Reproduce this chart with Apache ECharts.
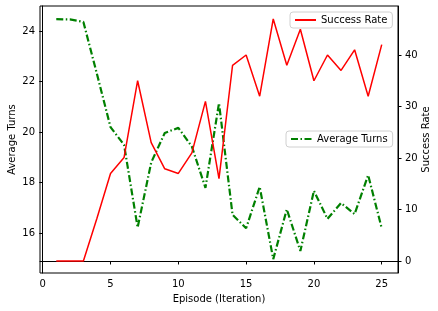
<!DOCTYPE html>
<html>
<head>
<meta charset="utf-8">
<script src="https://cdn.jsdelivr.net/npm/echarts@6/dist/echarts.min.js"></script>
<style>html,body{margin:0;padding:0;background:#fff}#c{width:438px;height:311px}</style>
</head>
<body>
<div id="c"></div>
<script>
const episodes = [1,2,3,4,5,6,7,8,9,10,11,12,13,14,15,16,17,18,19,20,21,22,23,24,25];
const successRate = [0,0,0,8.3,17,20.1,35,23,17.9,17,21,31,16,38,40,32,47,38,45,35,40,37,41,32,42];
const averageTurns = [24.47,24.46,24.36,22.3,20.2,19.5,16.23,18.8,19.97,20.17,19.43,17.8,21.15,16.73,16.2,17.84,14.98,16.95,15.3,17.68,16.57,17.2,16.76,18.3,16.2];
const xTicks = [0,5,10,15,20,25];
const leftTicks = [16,18,20,22,24];
const rightTicks = [0,10,20,30,40];

const font = 'DejaVu Sans';
const chart = echarts.init(document.getElementById('c'), null, {renderer:'canvas'});
const tickStyle = {show:true, inside:false, length:3.5, lineStyle:{color:'#000', width:1}};
const labelStyle = {color:'#000', fontFamily:font, fontSize:10};
const legendBase = {orient:'vertical', itemWidth:21, itemHeight:10, itemGap:4,
  padding:[3,5,3,4], borderColor:'#d0d0d0', borderWidth:1, borderRadius:3, backgroundColor:'rgba(255,255,255,0.8)',
  itemStyle:{opacity:0},
  textStyle:{color:'#000', fontFamily:font, fontSize:10}};
chart.setOption({
  animation:false,
  backgroundColor:'#fff',
  grid:{left:40, right:40, top:6, bottom:38, show:true, borderColor:'#000', borderWidth:1, backgroundColor:'transparent',
        outerBoundsMode:'none', containLabel:false},
  legend:[
    Object.assign({data:['Success Rate'], left:290, top:12}, legendBase),
    Object.assign({data:['Average Turns'], left:286, top:131}, legendBase)
  ],
  xAxis:{type:'value', min:-0.2, max:26.2,
    name:'Episode (Iteration)', nameLocation:'middle', nameGap:21, nameMoveOverlap:false,
    nameTextStyle:{color:'#000', fontFamily:font, fontSize:10},
    axisLine:{show:true, lineStyle:{color:'#000', width:1}},
    axisTick:Object.assign({customValues:xTicks}, tickStyle),
    axisLabel:Object.assign({customValues:xTicks, margin:6}, labelStyle),
    splitLine:{show:false}},
  yAxis:[
    {type:'value', min:14.43, max:24.99, position:'left',
     name:'Average Turns', nameLocation:'middle', nameGap:23, nameMoveOverlap:false,
     nameTextStyle:{color:'#000', fontFamily:font, fontSize:10},
     axisLine:{show:true, lineStyle:{color:'#000', width:1}},
     axisTick:Object.assign({customValues:leftTicks}, tickStyle),
     axisLabel:Object.assign({customValues:leftTicks, margin:5}, labelStyle),
     splitLine:{show:false}},
    {type:'value', min:-2.33, max:49.51, position:'right',
     name:'Success Rate', nameLocation:'middle', nameGap:23, nameMoveOverlap:false,
     nameTextStyle:{color:'#000', fontFamily:font, fontSize:10},
     axisLine:{show:true, lineStyle:{color:'#000', width:1}},
     axisTick:Object.assign({customValues:rightTicks}, tickStyle),
     axisLabel:Object.assign({customValues:rightTicks, margin:7}, labelStyle),
     splitLine:{show:false}}
  ],
  series:[
    {name:'Average Turns', type:'line', yAxisIndex:0, symbol:'none', showSymbol:false,
     data:episodes.map((e,i)=>[e, averageTurns[i]]),
     lineStyle:{color:'#008000', width:2.2, type:[7,2.5,1.5,2.5]}, itemStyle:{color:'#008000'}},
    {name:'Success Rate', type:'line', yAxisIndex:1, symbol:'none', showSymbol:false,
     data:episodes.map((e,i)=>[e, successRate[i]]),
     lineStyle:{color:'#ff0000', width:1.5}, itemStyle:{color:'#ff0000'}}
  ]
});
</script>
</body>
</html>
